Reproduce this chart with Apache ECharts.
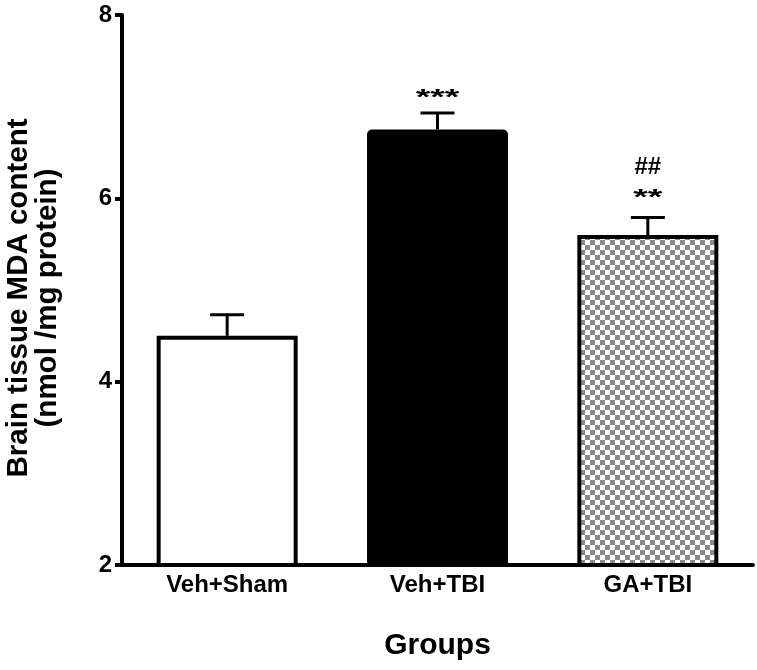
<!DOCTYPE html>
<html><head><meta charset="utf-8">
<script src="https://cdn.jsdelivr.net/npm/echarts@6/dist/echarts.min.js"></script>
<style>html,body{margin:0;padding:0;background:#fff}#c{width:757px;height:670px}</style>
</head><body><div id="c"></div>
<script>
const categories = ['Veh+Sham', 'Veh+TBI', 'GA+TBI'];
const means = [4.50, 6.75, 5.60];
const errors = [0.23, 0.18, 0.19];
const starMarks = ['', '***', '**'];
const hashMarks = ['', '', '##'];
const yTicks = [2, 4, 6, 8];

// checkerboard pattern
const pat = document.createElement('canvas');
pat.width = 10; pat.height = 10;
const pc = pat.getContext('2d');
pc.fillStyle = '#fff'; pc.fillRect(0,0,10,10);
pc.fillStyle = '#8a8a8a'; pc.fillRect(0,0,5,5); pc.fillRect(5,5,5,5);

const fills = ['#ffffff', '#000000', {image: pat, repeat: 'repeat'}];
const FONT = 'Liberation Sans, Arial, sans-serif';

const chart = echarts.init(document.getElementById('c'), null, {renderer: 'canvas'});
chart.setOption({
  animation: false,
  grid: {left: 122, right: 4, top: 15, bottom: 105, outerBoundsMode: 'none', containLabel: false},
  xAxis: {
    type: 'category', data: categories,
    axisLine: {lineStyle: {color: '#000', width: 4}},
    axisTick: {show: false},
    axisLabel: {color: '#000', fontFamily: FONT, fontWeight: 'bold', fontSize: 24, margin: 8},
    name: 'Groups', nameLocation: 'middle', nameGap: 66,
    nameTextStyle: {color: '#000', fontFamily: FONT, fontWeight: 'bold', fontSize: 30, verticalAlign: 'top'}
  },
  yAxis: {
    type: 'value', min: yTicks[0], max: yTicks[yTicks.length-1], interval: 2,
    splitLine: {show: false},
    axisLine: {show: true, lineStyle: {color: '#000', width: 4}},
    axisTick: {show: true, length: 7, lineStyle: {color: '#000', width: 4}},
    axisLabel: {color: '#000', fontFamily: FONT, fontWeight: 'bold', fontSize: 24, margin: 10},
    name: 'Brain tissue MDA content\n(nmol /mg protein)', nameLocation: 'middle', nameGap: 60,
    nameTextStyle: {color: '#000', fontFamily: FONT, fontWeight: 'bold', fontSize: 29.5, lineHeight: 29, padding: [0, 16, 0, 0]}
  },
  series: [
    {
      type: 'bar', barWidth: 141,
      data: means.map((v, i) => ({value: v, itemStyle: {color: fills[i], borderRadius: i === 1 ? 3 : 0}})),
      itemStyle: {borderColor: '#000', borderWidth: 4}
    },
    {
      type: 'custom', z: 5,
      data: means.map((v, i) => [i, v, v + errors[i]]),
      renderItem: function (params, api) {
        const i = params.dataIndex;
        const base = api.coord([api.value(0), api.value(1)]);
        const top = api.coord([api.value(0), api.value(2)]);
        const hw = 17;
        const children = [
          {type: 'line', shape: {x1: base[0], y1: base[1], x2: top[0], y2: top[1]}, style: {stroke: '#000', lineWidth: 3}},
          {type: 'line', shape: {x1: top[0]-hw, y1: top[1], x2: top[0]+hw, y2: top[1]}, style: {stroke: '#000', lineWidth: 3}}
        ];
        if (starMarks[i]) {
          const gap = hashMarks[i] ? 9 : 4;
          children.push({type: 'text', x: top[0], y: top[1] - gap, scaleX: 1.7,
            style: {text: starMarks[i], x: 0, y: 0, align: 'center', verticalAlign: 'bottom',
            font: 'bold 22px ' + FONT, fill: '#000'}});
        }
        if (hashMarks[i]) {
          children.push({type: 'text', style: {text: hashMarks[i], x: top[0], y: top[1] - 50, align: 'center', verticalAlign: 'middle',
            font: 'bold 24px ' + FONT, fill: '#000'}});
        }
        return {type: 'group', children: children};
      }
    }
  ]
});
</script></body></html>
